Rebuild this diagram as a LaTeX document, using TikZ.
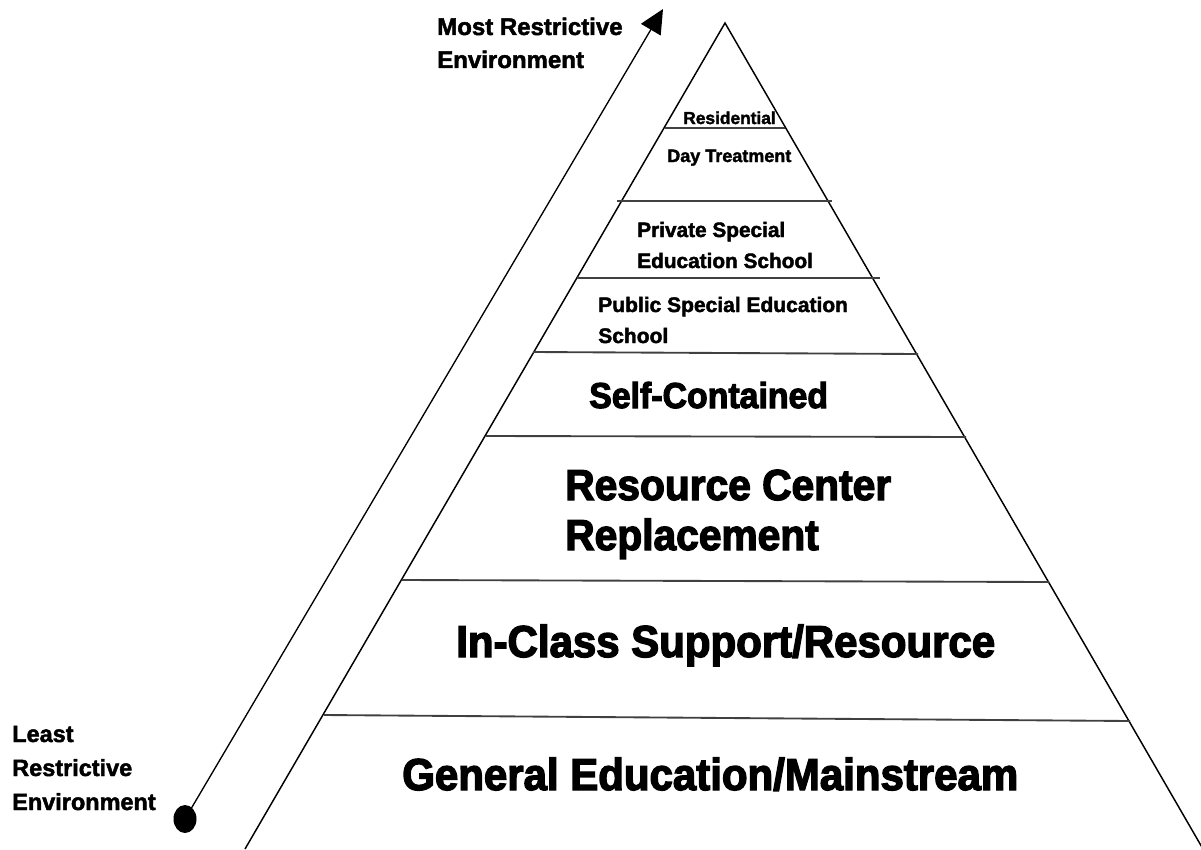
\documentclass[tikz,border=0pt]{standalone}
\usepackage{fontspec}
\setmainfont{Liberation Sans}
\newfontfamily\heavyfont[BoldFeatures={FakeBold=2}]{Liberation Sans}
\newfontfamily\condfont[FakeStretch=0.94, BoldFeatures={FakeBold=3}]{Liberation Sans}
\usetikzlibrary{arrows.meta}

\tikzset{
  edge/.style={line width=1.1pt},
  level/.style={line width=1.4pt, black!75},
  tag/.style={anchor=base west, inner sep=0pt, align=left},
}
\newcommand{\tagsize}[2]{\heavyfont\bfseries\fontsize{#1}{#2}\selectfont}
\newcommand{\bigtagsize}[2]{\condfont\bfseries\fontsize{#1}{#2}\selectfont}

\begin{document}
\begin{tikzpicture}[x=0.75pt, y=-0.75pt]
\useasboundingbox (0,0) rectangle (1201,849);

% pyramid
\coordinate (apex) at (725,23);
\coordinate (baseL) at (245,849);
\coordinate (baseR) at (1203,849);
\draw[edge] (baseL)--(apex)--(baseR);

% level lines, top to bottom
\coordinate (L1a) at (665,128);  \coordinate (L1b) at (785,128);
\coordinate (L2a) at (617,201);  \coordinate (L2b) at (832,201);
\coordinate (L3a) at (577,278);  \coordinate (L3b) at (880,278);
\coordinate (L4a) at (533,352);  \coordinate (L4b) at (918,354);
\coordinate (L5a) at (486,436);  \coordinate (L5b) at (966,437);
\coordinate (L6a) at (402,580);  \coordinate (L6b) at (1049,582);
\coordinate (L7a) at (324,715);  \coordinate (L7b) at (1130,721);
\foreach \i in {1,...,7}
  \draw[level] (L\i a)--(L\i b);

% level texts (base = last line)
\node (residential) [tag, font=\tagsize{13}{16}] at (683,124) {Residential};
\node (daytreat) [tag, font=\tagsize{13.5}{16}] at (667,162) {Day Treatment};
\node (private) [tag, font=\tagsize{15.6}{23.25}] at (637,268) {Private Special\\Education School};
\node (public) [tag, font=\tagsize{15.75}{23.25}] at (598,343) {Public Special Education\\School};
\node (selfcont) [tag, font=\bigtagsize{27}{30}] at (589,408) {Self-Contained};
\node (resource) [tag, font=\bigtagsize{32.5}{37.5}] at (565,550) {Resource Center\\Replacement};
\node (inclass) [tag, font=\bigtagsize{33.5}{36}] at (456,657) {In-Class Support/Resource};
\node (general) [tag, font=\bigtagsize{33.5}{36}] at (402,790) {General Education/Mainstream};

% restrictiveness arrow
\coordinate (dotLeast) at (185,819);
\coordinate (tipMost) at (663,9);
\fill (dotLeast) ellipse [x radius=11.5, y radius=14];
\draw[line width=1pt, -{Triangle[length=18pt, width=17pt]}] (dotLeast)--(tipMost);

\node (most) [tag, font=\tagsize{18}{24.75}] at (437,68) {Most Restrictive\\Environment};
\node (least) [tag, font=\tagsize{17.6}{25.5}] at (12,810) {Least\\Restrictive\\Environment};
\end{tikzpicture}
\end{document}
